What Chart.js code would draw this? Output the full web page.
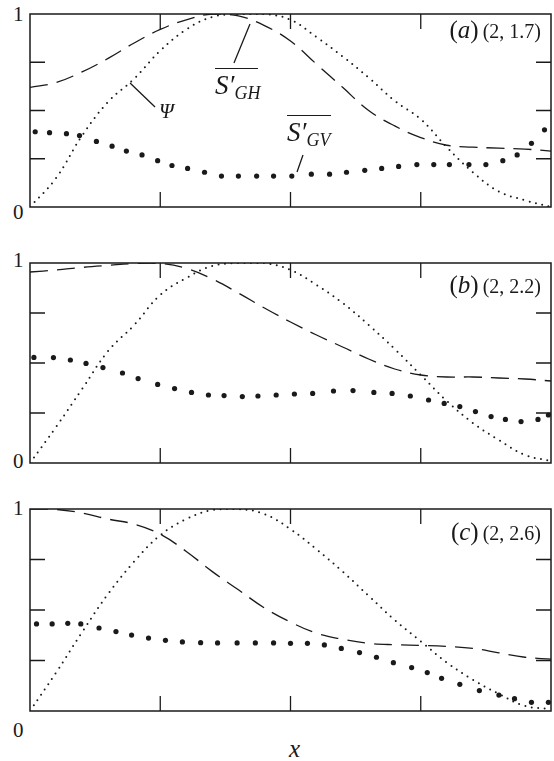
<!DOCTYPE html>
<html><head><meta charset="utf-8">
<script src="https://cdn.jsdelivr.net/npm/chart.js@4.4.1/dist/chart.umd.min.js"></script>
<style>
html,body{margin:0;padding:0;background:#fff;}
#wrap{position:relative;width:554px;height:761px;overflow:hidden;font-family:"Liberation Serif","Times New Roman",serif;color:#1a1a1a;}
canvas{position:absolute;}
.t{position:absolute;white-space:nowrap;line-height:1;}
.num{font-size:21px;}
.lab{right:13px;}
.lab .big{font-size:25px;}
.lab .sm{font-size:20px;}
.ann{font-style:italic;}
.ann sub{font-size:18px;vertical-align:-5px;line-height:0;}
.ov{position:absolute;height:0;border-top:1.4px solid #1a1a1a;}
</style></head><body>
<div id="wrap">
<canvas id="ca"></canvas>
<canvas id="cb"></canvas>
<canvas id="cc"></canvas>

<div class="t num" style="left:13px;top:4px;">1</div>
<div class="t num" style="left:13px;top:202px;">0</div>
<div class="t num" style="left:13px;top:250px;">1</div>
<div class="t num" style="left:13px;top:451px;">0</div>
<div class="t num" style="left:13px;top:498px;">1</div>
<div class="t num" style="left:13px;top:720px;">0</div>
<div class="t" style="left:289px;top:736px;font-size:25px;font-style:italic;">x</div>

<div class="t lab" style="top:17px;"><span class="big">(<i>a</i>)</span> <span class="sm">(2, 1.7)</span></div>
<div class="t lab" style="top:272px;"><span class="big">(<i>b</i>)</span> <span class="sm">(2, 2.2)</span></div>
<div class="t lab" style="top:519px;"><span class="big">(<i>c</i>)</span> <span class="sm">(2, 2.6)</span></div>

<div class="t ann" style="left:159px;top:101px;font-size:21px;">Ψ</div>
<div class="ov" style="left:215px;top:68px;width:43px;"></div>
<div class="t ann" style="left:215px;top:72px;font-size:27px;">S′<sub>GH</sub></div>
<div class="ov" style="left:287px;top:115px;width:44px;"></div>
<div class="t ann" style="left:287px;top:119px;font-size:27px;">S′<sub>GV</sub></div>
</div>

<script>
// ---------- data ----------
const xGrid = [0,0.2,0.4,0.6,0.8,1.0,1.2,1.4,1.6,1.8,2.0,2.2,2.4,2.6,2.8,3.0,3.2,3.4,3.6,3.8,4.0];
const xTicks = [1,2,3];
const yTicks = [0.25,0.5,0.75];

// panel (a) (2, 1.7)
const psiA = [0,0.15,0.37,0.545,0.665,0.81,0.92,0.985,1.0,1.0,0.97,0.88,0.78,0.67,0.55,0.455,0.31,0.18,0.08,0.035,0];
const sghA = [0.62,0.645,0.70,0.77,0.85,0.92,0.97,1.0,0.99,0.94,0.86,0.74,0.62,0.50,0.42,0.36,0.32,0.31,0.305,0.30,0.29];
const sgvAx = [0.04,0.15,0.28,0.38,0.51,0.63,0.74,0.86,0.98,1.09,1.21,1.34,1.47,1.60,1.74,1.87,2.01,2.16,2.30,2.43,2.57,2.70,2.83,2.97,3.10,3.22,3.37,3.50,3.63,3.74,3.85,3.95];
const sgvAy = [0.39,0.385,0.38,0.37,0.34,0.315,0.29,0.27,0.24,0.215,0.20,0.18,0.16,0.16,0.16,0.16,0.16,0.17,0.17,0.18,0.19,0.20,0.21,0.22,0.22,0.22,0.22,0.22,0.24,0.27,0.33,0.40];

// panel (b) (2, 2.2)
const psiB = [0,0.18,0.37,0.56,0.69,0.84,0.925,0.985,1.0,1.0,0.965,0.89,0.80,0.69,0.57,0.44,0.31,0.20,0.115,0.04,0.01];
const sghB = [0.955,0.965,0.978,0.988,0.997,0.998,0.973,0.92,0.85,0.775,0.705,0.64,0.58,0.52,0.47,0.44,0.43,0.43,0.425,0.42,0.41];
const sgvBx = [0.03,0.18,0.31,0.43,0.56,0.71,0.83,0.98,1.11,1.24,1.37,1.49,1.63,1.75,1.89,2.03,2.17,2.33,2.48,2.64,2.78,2.92,3.06,3.18,3.30,3.42,3.54,3.65,3.77,3.90,3.98];
const sgvBy = [0.528,0.527,0.515,0.498,0.477,0.45,0.422,0.393,0.372,0.353,0.34,0.337,0.332,0.335,0.34,0.345,0.348,0.36,0.362,0.353,0.348,0.335,0.315,0.298,0.282,0.257,0.232,0.218,0.207,0.218,0.24];

// panel (c) (2, 2.6)
const psiC = [0,0.19,0.39,0.58,0.74,0.87,0.95,0.995,1.0,0.975,0.90,0.80,0.69,0.57,0.45,0.345,0.24,0.155,0.085,0.025,0.01];
const sghC = [1.0,0.998,0.98,0.95,0.925,0.875,0.79,0.69,0.60,0.51,0.44,0.385,0.355,0.335,0.328,0.325,0.32,0.31,0.288,0.266,0.257];
const sgvCx = [0.05,0.17,0.29,0.39,0.53,0.66,0.78,0.91,1.04,1.17,1.31,1.44,1.59,1.73,1.87,2.00,2.13,2.26,2.39,2.53,2.66,2.79,2.93,3.05,3.16,3.30,3.45,3.60,3.72,3.85,3.98];
const sgvCy = [0.431,0.431,0.434,0.431,0.411,0.393,0.376,0.361,0.35,0.342,0.338,0.337,0.337,0.337,0.337,0.335,0.335,0.327,0.31,0.289,0.266,0.239,0.215,0.19,0.162,0.132,0.101,0.079,0.061,0.043,0.043];

// leader lines for panel (a), in data units [x1,y1,x2,y2]
const leadersA = [[0.768,0.642,0.96,0.518],[1.689,0.948,1.566,0.746],[2.096,0.269,2.05,0.181]];

// ---------- layout ----------
const INK = '#1a1a1a';
const PAD = 4;
const PLOT_LEFT = 30, PLOT_W = 521;
const panels = [
  {id:'ca', top:14,  h:193, psi:psiA, sgh:sghA, gx:sgvAx, gy:sgvAy, leaders:leadersA},
  {id:'cb', top:263, h:200, psi:psiB, sgh:sghB, gx:sgvBx, gy:sgvBy, leaders:[]},
  {id:'cc', top:509, h:202, psi:psiC, sgh:sghC, gx:sgvCx, gy:sgvCy, leaders:[]}
];

const framePlugin = {
  id:'frame',
  afterDraw(chart, args, opts){
    const {ctx, chartArea:a, scales} = chart;
    const L = 15;
    ctx.save();
    ctx.strokeStyle = INK;
    ctx.lineWidth = 1.5;
    ctx.strokeRect(a.left, a.top, a.right-a.left, a.bottom-a.top);
    ctx.lineWidth = 1.3;
    ctx.beginPath();
    xTicks.forEach(v=>{
      const px = scales.x.getPixelForValue(v);
      ctx.moveTo(px, a.top); ctx.lineTo(px, a.top+L);
      ctx.moveTo(px, a.bottom); ctx.lineTo(px, a.bottom-L);
    });
    yTicks.forEach(v=>{
      const py = scales.y.getPixelForValue(v);
      ctx.moveTo(a.left, py); ctx.lineTo(a.left+L, py);
      ctx.moveTo(a.right, py); ctx.lineTo(a.right-L, py);
    });
    (opts.leaders||[]).forEach(l=>{
      ctx.moveTo(scales.x.getPixelForValue(l[0]), scales.y.getPixelForValue(l[1]));
      ctx.lineTo(scales.x.getPixelForValue(l[2]), scales.y.getPixelForValue(l[3]));
    });
    ctx.stroke();
    ctx.restore();
  }
};

panels.forEach(p=>{
  const cv = document.getElementById(p.id);
  cv.width = PLOT_W + 2*PAD; cv.height = p.h + 2*PAD;
  cv.style.left = (PLOT_LEFT-PAD)+'px'; cv.style.top = (p.top-PAD)+'px';
  new Chart(cv, {
    type:'line',
    data:{datasets:[
      {label:'Ψ', data:xGrid.map((x,i)=>({x, y:p.psi[i]})), borderColor:INK, borderWidth:2,
       borderDash:[0,6.5], borderCapStyle:'round', pointRadius:0, tension:0.4, fill:false},
      {label:"S'GH", data:xGrid.map((x,i)=>({x, y:p.sgh[i]})), borderColor:INK, borderWidth:1.3,
       borderDash:[18,9], pointRadius:0, tension:0.4, fill:false},
      {label:"S'GV", data:p.gx.map((x,i)=>({x, y:p.gy[i]})), showLine:false, pointRadius:2.6,
       pointBackgroundColor:INK, pointBorderWidth:0}
    ]},
    options:{
      responsive:false, animation:false, devicePixelRatio:1,
      layout:{padding:PAD},
      plugins:{legend:{display:false}, tooltip:{enabled:false}, frame:{leaders:p.leaders}},
      scales:{
        x:{type:'linear', min:0, max:4, display:false},
        y:{type:'linear', min:0, max:1, display:false}
      }
    },
    plugins:[framePlugin]
  });
});
</script>
</body></html>
